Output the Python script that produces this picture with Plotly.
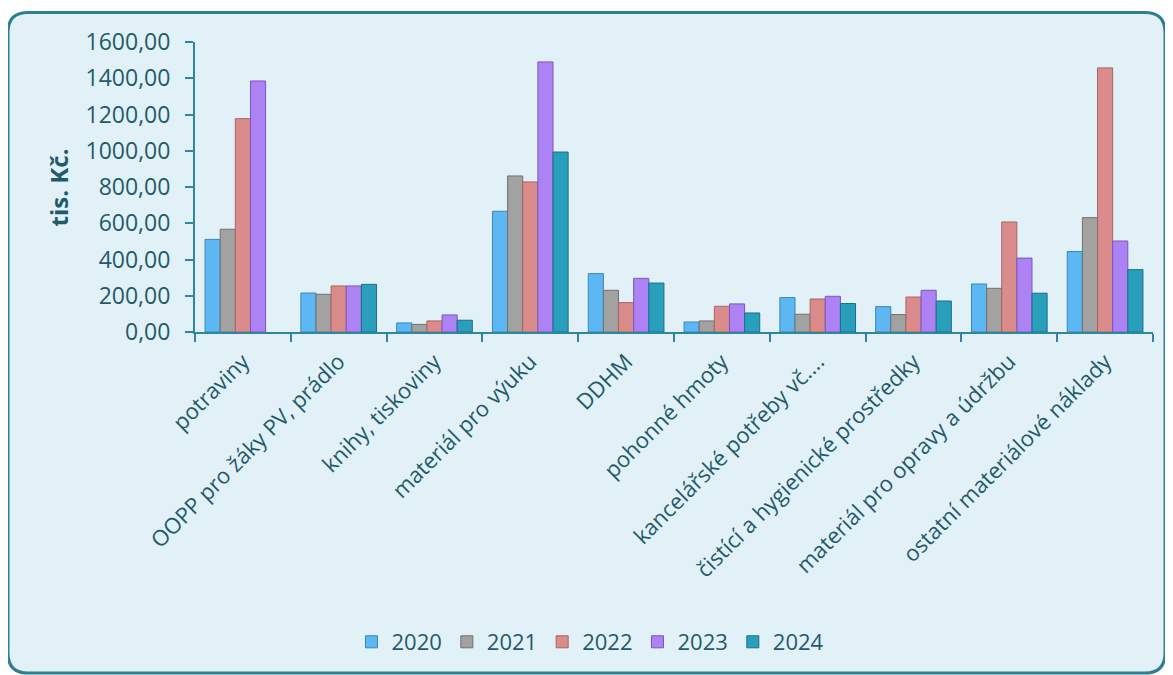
import plotly.graph_objects as go

categories = ["potraviny", "OOPP pro žáky PV, prádlo", "knihy, tiskoviny", "materiál pro výuku",
              "DDHM", "pohonné hmoty", "kancelářské potřeby vč....", "čistící a hygienické prostředky",
              "materiál pro opravy a údržbu", "ostatní materiálové náklady"]
years = ["2020", "2021", "2022", "2023", "2024"]
v2020 = [511, 215, 50, 666, 322, 55, 190, 140, 265, 444]
v2021 = [567, 208, 42, 861, 230, 61, 98, 96, 241, 631]
v2022 = [1177, 254, 61, 828, 162, 142, 182, 193, 607, 1457]
v2023 = [1385, 254, 94, 1490, 296, 155, 197, 230, 408, 502]
v2024 = [None, 263, 65, 993, 270, 105, 157, 171, 214, 344]
series = [v2020, v2021, v2022, v2023, v2024]
colors = ["#5db7f2", "#a2a2a2", "#d98c8b", "#ac82f4", "#2a9fbc"]
edges = ["#3a86b8", "#707070", "#a86462", "#7a56bf", "#1a6f86"]

txt = "#1f5b6c"
axc = "#2e86a0"
font_family = "Open Sans, Noto Sans, sans-serif"

fig = go.Figure()
for y, vals, c, e in zip(years, series, colors, edges):
    fig.add_trace(go.Bar(x=categories, y=vals, name=y, marker=dict(color=c, line=dict(color=e, width=1))))

# page has an 8px body margin; figure coordinates = screen - 8
OFF = 8
FW, FH = 1173 - OFF, 675 - OFF
L, R, T, B = 195 - OFF, FW - (1153 - OFF), 41.5 - OFF, FH - (331.7 - OFF)
W = FW - L - R
H = FH - T - B

def px(x):
    return (x - OFF - L) / W

def py(y):
    return (FH - B - (y - OFF)) / H

x0, x1, y0, y1 = px(8), px(1165), py(673), py(12)
rx, ry = 20 / W, 20 / H
path = (f"M {x0+rx},{y1} L {x1-rx},{y1} Q {x1},{y1} {x1},{y1-ry} "
        f"L {x1},{y0+ry} Q {x1},{y0} {x1-rx},{y0} L {x0+rx},{y0} Q {x0},{y0} {x0},{y0+ry} "
        f"L {x0},{y1-ry} Q {x0},{y1} {x0+rx},{y1} Z")

fig.update_layout(
    width=FW, height=FH,
    margin=dict(l=L, r=R, t=T, b=B, autoexpand=False),
    paper_bgcolor="white", plot_bgcolor="rgba(0,0,0,0)",
    barmode="group", bargap=0.21, bargroupgap=0,
    separators=", ",
    font=dict(family=font_family, size=22, color=txt),
    showlegend=True,
    legend=dict(orientation="h", xref="container", yref="container", x=0.5, xanchor="center",
                y=1 - (642 - OFF) / FH, yanchor="middle", font=dict(size=22, color=txt), itemwidth=30,
                bgcolor="rgba(0,0,0,0)", traceorder="normal"),
    shapes=[dict(type="path", path=path, xref="paper", yref="paper", layer="below",
                 fillcolor="#e2f1f7", line=dict(color="#2f7f93", width=3))],
    annotations=[dict(text="<b>tis. Kč.</b>", textangle=-90, xref="paper", yref="paper",
                      x=px(58), y=py(187), showarrow=False, font=dict(size=24, color=txt),
                      xanchor="center", yanchor="middle")],
)
fig.update_yaxes(range=[0, 1600], dtick=200, tickformat=".2f", showgrid=False, zeroline=False,
                 showline=True, linecolor=axc, linewidth=2, ticks="outside", ticklen=8,
                 tickcolor=axc, tickwidth=2, tickfont=dict(size=23, color=txt),
                 ticklabelstandoff=10)
fig.update_xaxes(type="category", tickangle=-45, showgrid=False, showline=True, linecolor=axc,
                 linewidth=2, ticks="outside", tickson="boundaries", ticklen=8, tickcolor=axc,
                 tickwidth=2, tickfont=dict(size=22, color=txt), ticklabelstandoff=6)

fig.write_html("out.html")
